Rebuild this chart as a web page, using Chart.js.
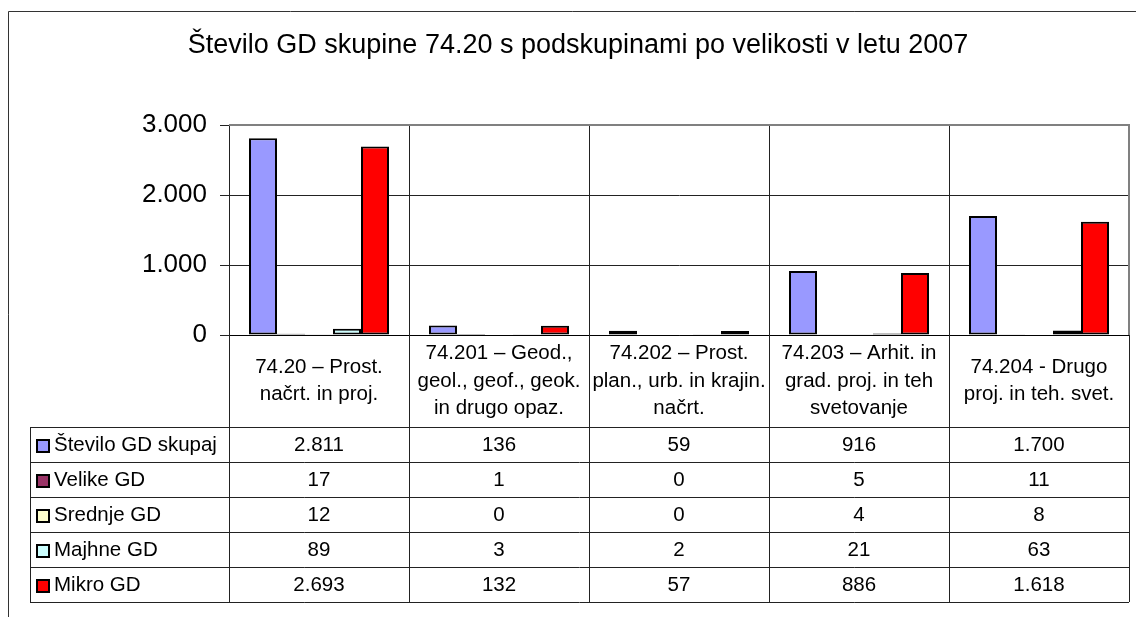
<!DOCTYPE html>
<html lang="sl">
<head>
<meta charset="utf-8">
<title>Število GD skupine 74.20</title>
<script src="https://cdn.jsdelivr.net/npm/chart.js@4.4.1/dist/chart.umd.min.js"></script>
<style>
  html, body { margin:0; padding:0; background:#fff; }
  #wrap { width:1136px; height:617px; }
</style>
</head>
<body>
<div id="wrap"><canvas id="c" width="1136" height="617"></canvas></div>
<script>
// ==== データ ====
const TITLE = 'Število GD skupine 74.20 s podskupinami po velikosti v letu 2007';
const categories = [
  ['74.20 – Prost.', 'načrt. in proj.'],
  ['74.201 – Geod.,', 'geol., geof., geok.', 'in drugo opaz.'],
  ['74.202 – Prost.', 'plan., urb. in krajin.', 'načrt.'],
  ['74.203 – Arhit. in', 'grad. proj. in teh', 'svetovanje'],
  ['74.204 - Drugo', 'proj. in teh. svet.']
];
const seriesNames = ['Število GD skupaj', 'Velike GD', 'Srednje GD', 'Majhne GD', 'Mikro GD'];
const skupaj  = [2811, 136, 59, 916, 1700];
const velike  = [17, 1, 0, 5, 11];
const srednje = [12, 0, 0, 4, 8];
const majhne  = [89, 3, 2, 21, 63];
const mikro   = [2693, 132, 57, 886, 1618];
const seriesColors = ['#9999FF', '#993366', '#FFFFCC', '#CCFFFF', '#FF0000'];
const Y_MAX = 3000;
const Y_STEP = 1000;

/* ===== 見た目 ===== */
const FONT = '"Liberation Sans", Arial, sans-serif';
const HEADER_H = 92;
const ROW_H = 35;
const LABEL_COL_LEFT = 30;

const fmt = (v) => String(v).replace(/\B(?=(\d{3})+(?!\d))/g, '.');
const seriesValues = [skupaj, velike, srednje, majhne, mikro];

/* ===== 枠・タイトル・データ表 ===== */
const tablePlugin = {
  id: 'dataTable',
  afterDraw(c) {
    const ctx = c.ctx;
    const a = c.chartArea;
    const xs = c.scales.x;
    const colW = xs.width / categories.length;
    const headTop = a.bottom;
    const rowsTop = headTop + HEADER_H;
    const tableBottom = rowsTop + ROW_H * seriesNames.length;
    const px = (v) => Math.round(v) + 0.5;

    ctx.save();

    // 外枠（右・下は画面外）
    ctx.strokeStyle = '#333';
    ctx.lineWidth = 1;
    ctx.beginPath();
    ctx.moveTo(px(8), 620); ctx.lineTo(px(8), px(11)); ctx.lineTo(1140, px(11));
    ctx.stroke();

    // タイトル
    ctx.fillStyle = '#000';
    ctx.font = `27px ${FONT}`;
    ctx.textAlign = 'center';
    ctx.textBaseline = 'middle';
    ctx.fillText(TITLE, 578, 46);

    // カテゴリ境界の縦線（プロット＋表）
    ctx.strokeStyle = '#222';
    ctx.lineWidth = 1;
    ctx.beginPath();
    for (let i = 0; i <= categories.length; i++) {
      const x = px(a.left + i * colW);
      ctx.moveTo(x, a.top); ctx.lineTo(x, tableBottom);
    }
    // 行の横線
    ctx.moveTo(a.left, px(rowsTop)); ctx.lineTo(a.right, px(rowsTop));
    ctx.moveTo(LABEL_COL_LEFT, px(rowsTop)); ctx.lineTo(a.left, px(rowsTop));
    for (let r = 1; r <= seriesNames.length; r++) {
      const y = px(rowsTop + r * ROW_H);
      ctx.moveTo(LABEL_COL_LEFT, y); ctx.lineTo(a.right, y);
    }
    ctx.moveTo(px(LABEL_COL_LEFT), px(rowsTop)); ctx.lineTo(px(LABEL_COL_LEFT), px(tableBottom));
    ctx.stroke();

    // プロット枠（上・右）
    ctx.strokeStyle = '#808080';
    ctx.lineWidth = 2;
    ctx.beginPath();
    ctx.moveTo(a.left, a.top); ctx.lineTo(a.right, a.top); ctx.lineTo(a.right, a.bottom);
    ctx.stroke();

    // 見出し（カテゴリ名）
    ctx.fillStyle = '#000';
    ctx.font = `20.5px ${FONT}`;
    ctx.textAlign = 'center';
    ctx.textBaseline = 'middle';
    const lh = 27.5;
    categories.forEach((lines, i) => {
      const cx = xs.getPixelForValue(i);
      const cy = headTop + HEADER_H / 2;
      lines.forEach((t, k) => {
        ctx.fillText(t, cx, cy + (k - (lines.length - 1) / 2) * lh);
      });
    });

    // 値
    seriesValues.forEach((vals, r) => {
      const cy = rowsTop + r * ROW_H + ROW_H / 2 + 1;
      vals.forEach((v, i) => ctx.fillText(fmt(v), xs.getPixelForValue(i), cy));
    });

    // 行ラベル＋凡例キー
    ctx.textAlign = 'left';
    seriesNames.forEach((name, r) => {
      const cy = rowsTop + r * ROW_H + ROW_H / 2;
      ctx.fillStyle = seriesColors[r];
      ctx.fillRect(36, Math.round(cy - 6), 14, 14);
      ctx.strokeStyle = '#000';
      ctx.lineWidth = 2;
      ctx.strokeRect(37, Math.round(cy - 6) + 1, 12, 12);
      ctx.fillStyle = '#000';
      ctx.fillText(name, 54, cy + 1);
    });

    ctx.restore();
  }
};

/* ===== Chart.js ===== */
new Chart(document.getElementById('c').getContext('2d'), {
  type: 'bar',
  data: {
    labels: categories,
    datasets: seriesNames.map((name, i) => ({
      label: name,
      data: seriesValues[i],
      backgroundColor: seriesColors[i],
      borderColor: '#000',
      borderWidth: 2,
      borderSkipped: false,
      categoryPercentage: 140 / 180,
      barPercentage: 1.0
    }))
  },
  options: {
    responsive: false,
    animation: false,
    layout: { padding: { top: 125, left: 0, right: 7, bottom: 15 } },
    scales: {
      x: {
        ticks: { display: false },
        grid: { display: false },
        border: { display: true, color: '#000', width: 1 },
        afterFit(s) { s.height = 267; }
      },
      y: {
        min: 0, max: Y_MAX,
        ticks: {
          stepSize: Y_STEP,
          padding: 13,
          color: '#000',
          font: { family: FONT, size: 26 },
          callback: (v) => fmt(v)
        },
        grid: { color: '#222', tickColor: '#222', tickLength: 9, lineWidth: 1 },
        border: { display: true, color: '#808080', width: 1 },
        afterFit(s) { s.width = 229; }
      }
    },
    plugins: {
      legend: { display: false },
      tooltip: { enabled: false }
    }
  },
  plugins: [tablePlugin]
});
</script>
</body>
</html>
